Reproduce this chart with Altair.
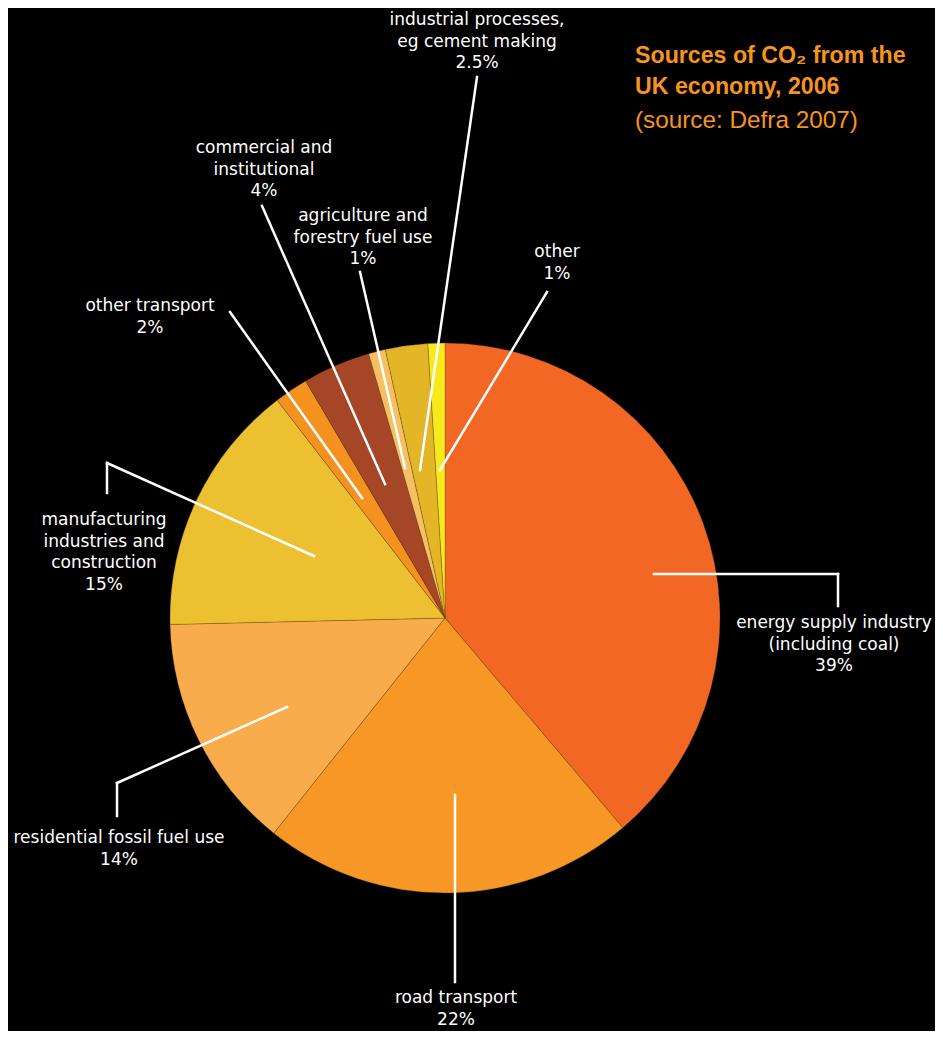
import altair as alt
import pandas as pd

# ---- data -------------------------------------------------------------
categories = [
    "energy supply industry",
    "road transport",
    "residential fossil fuel use",
    "manufacturing industries and construction",
    "other transport",
    "commercial and institutional",
    "agriculture and forestry fuel use",
    "industrial processes",
    "other",
]
values = [39, 22, 14, 15, 2, 4, 1, 2.5, 1]
colors = ["#F26724", "#F79826", "#F9AC4B", "#EDC031", "#F3921F",
          "#A54627", "#F6C062", "#E3B527", "#F7EA1B"]

# label text lines (percent appended from values)
label_lines = [
    ["energy supply industry", "(including coal)"],
    ["road transport"],
    ["residential fossil fuel use"],
    ["manufacturing", "industries and", "construction"],
    ["other transport"],
    ["commercial and", "institutional"],
    ["agriculture and", "forestry fuel use"],
    ["industrial processes,", "eg cement making"],
    ["other"],
]

title_lines = ["Sources of CO\u2082 from the", "UK economy, 2006"]
subtitle = "(source: Defra 2007)"

# ---- layout (page pixels; page margin is 8px) --------------------------
M = 8
W, H = 927, 1023
CX, CY, R = 445 - M, 618 - M, 275

label_pos = [  # centre x, first baseline y
    (834, 628), (456, 1003), (119, 843), (104, 525), (150, 311),
    (264, 153), (363, 221), (477, 25), (557, 257),
]
leaders = [  # polylines
    [(654, 574), (838, 574), (838, 606)],
    [(455, 795), (455, 982)],
    [(287, 707), (117, 783), (117, 816)],
    [(314, 556), (107, 463), (107, 493)],
    [(362, 498), (230, 312)],
    [(385, 484), (262, 206)],
    [(405, 468), (360, 272)],
    [(420, 470), (477, 77)],
    [(440, 470), (547, 292)],
]

# ---- tables ------------------------------------------------------------
pie_df = pd.DataFrame({"cat": categories, "value": values,
                       "idx": list(range(len(categories)))})

lab_rows = []
for (lx, ly), lines, v in zip(label_pos, label_lines, values):
    lab_rows.append({"x": lx - M, "y": ly - M,
                     "text": "\n".join(lines + [f"{v:g}%"])})
lab_df = pd.DataFrame(lab_rows)

seg_rows = []
for poly in leaders:
    for (x1, y1), (x2, y2) in zip(poly[:-1], poly[1:]):
        seg_rows.append({"x": x1 - M, "y": y1 - M, "x2": x2 - M, "y2": y2 - M})
seg_df = pd.DataFrame(seg_rows)

title_df = pd.DataFrame({
    "x": [635 - M] * 2, "y": [63 - M, 94 - M], "text": title_lines})
sub_df = pd.DataFrame({"x": [635 - M], "y": [128 - M], "text": [subtitle]})

xs = alt.Scale(domain=[0, W], range=[0, W])
ys = alt.Scale(domain=[0, H], range=[0, H])

pie = alt.Chart(pie_df).mark_arc(
    radius=R, stroke="#5a4010", strokeWidth=0.5, strokeOpacity=0.6
).encode(
    theta=alt.Theta("value:Q", stack=True),
    color=alt.Color("cat:N", scale=alt.Scale(domain=categories, range=colors),
                    legend=None),
    order=alt.Order("idx:Q"),
    x=alt.value(CX), y=alt.value(CY),
)

rules = alt.Chart(seg_df).mark_rule(color="white", strokeWidth=2.5,
                                    strokeCap="square").encode(
    x=alt.X("x:Q", scale=xs, axis=None),
    y=alt.Y("y:Q", scale=ys, axis=None),
    x2="x2:Q", y2="y2:Q",
)

labels = alt.Chart(lab_df).mark_text(
    font="DejaVu Sans", fontSize=17, color="white", align="center",
    baseline="alphabetic", lineBreak="\n", lineHeight=21.5,
).encode(
    x=alt.X("x:Q", scale=xs, axis=None),
    y=alt.Y("y:Q", scale=ys, axis=None),
    text="text:N",
)

title = alt.Chart(title_df).mark_text(
    font="Liberation Sans", fontSize=23.2, fontWeight="bold", color="#F7941D",
    align="left", baseline="alphabetic",
).encode(
    x=alt.X("x:Q", scale=xs, axis=None),
    y=alt.Y("y:Q", scale=ys, axis=None),
    text="text:N",
)

sub = alt.Chart(sub_df).mark_text(
    font="Liberation Sans", fontSize=24.3, color="#F7941D",
    align="left", baseline="alphabetic",
).encode(
    x=alt.X("x:Q", scale=xs, axis=None),
    y=alt.Y("y:Q", scale=ys, axis=None),
    text="text:N",
)

chart = alt.layer(pie, rules, labels, title, sub).properties(
    width=W, height=H, background="black", padding=0,
    autosize=alt.AutoSizeParams(type="none"),
).configure_view(stroke=None)

chart.save("out.html", embed_options={"renderer": "svg", "actions": False})
